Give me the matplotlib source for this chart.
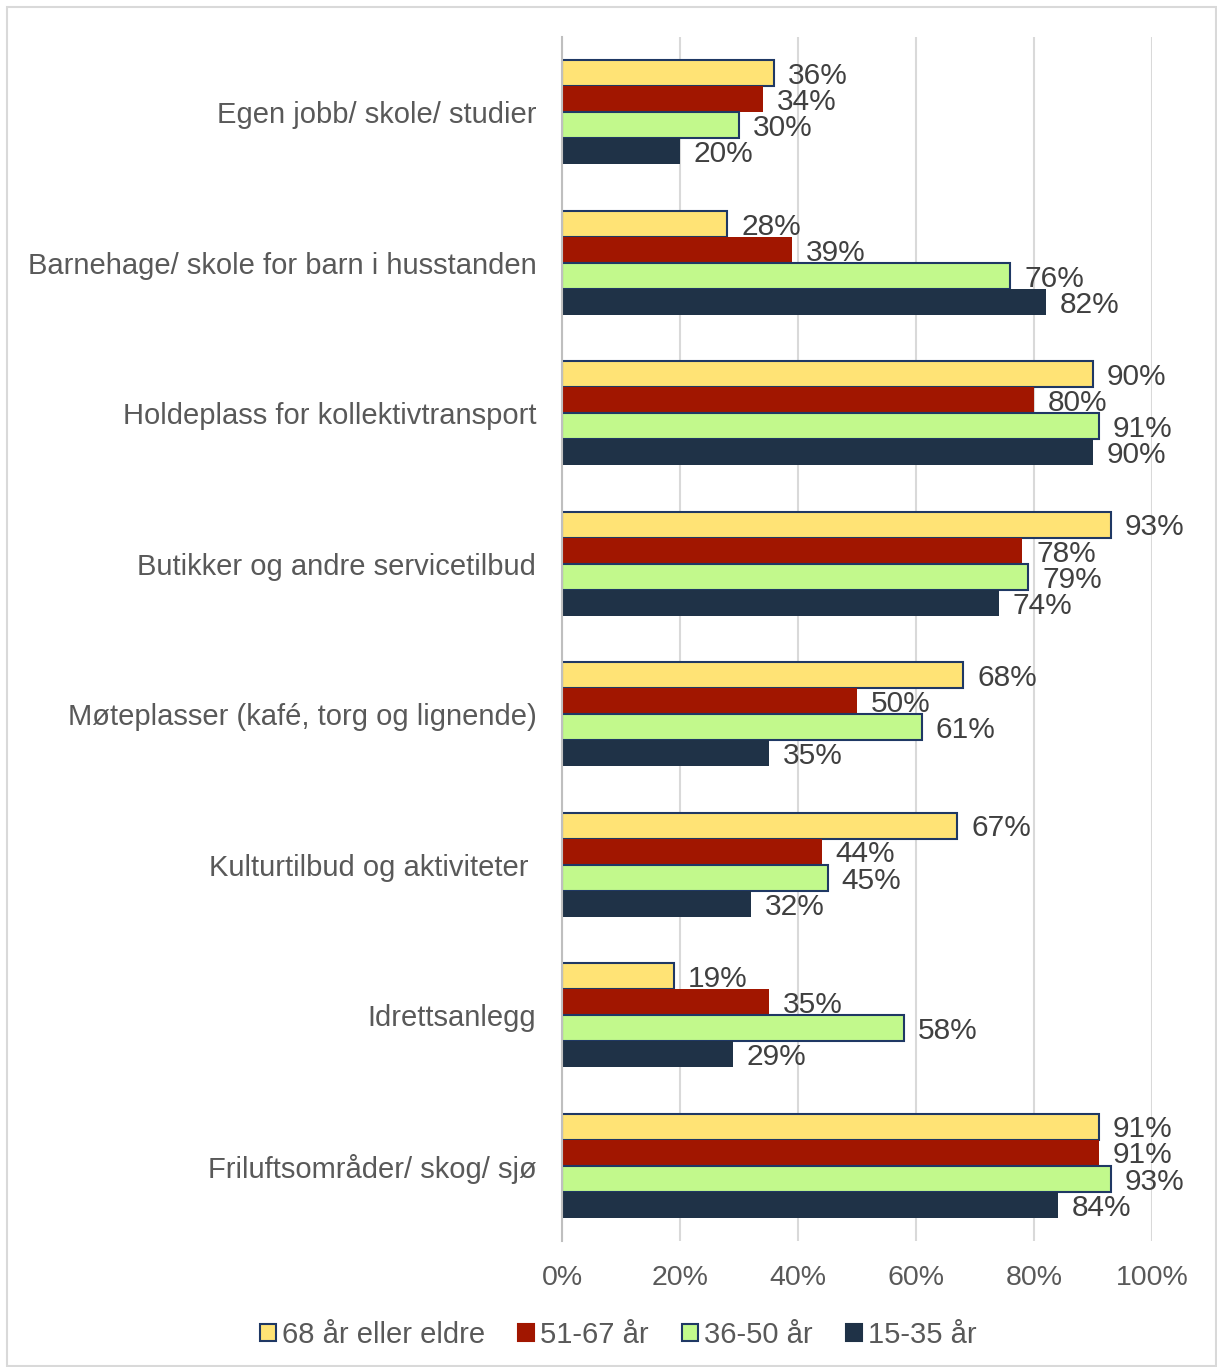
import numpy as np
import matplotlib
matplotlib.use("Agg")
from matplotlib import pyplot as plt
from matplotlib.patches import Rectangle, Patch

plt.rcParams["font.family"] = ["Liberation Sans", "DejaVu Sans"]

categories = [
    "Egen jobb/ skole/ studier",
    "Barnehage/ skole for barn i husstanden",
    "Holdeplass for kollektivtransport",
    "Butikker og andre servicetilbud",
    "Møteplasser (kafé, torg og lignende)",
    "Kulturtilbud og aktiviteter ",
    "Idrettsanlegg",
    "Friluftsområder/ skog/ sjø",
]
series = ["68 år eller eldre", "51-67 år", "36-50 år", "15-35 år"]
age_68 = [36, 28, 90, 93, 68, 67, 19, 91]
age_51 = [34, 39, 80, 78, 50, 44, 35, 91]
age_36 = [30, 76, 91, 79, 61, 45, 58, 93]
age_15 = [20, 82, 90, 74, 35, 32, 29, 84]
values = [age_68, age_51, age_36, age_15]

colors = ["#FFE375", "#A11600", "#C2F98C", "#1F3247"]
edges = ["#1F3864", "none", "#1F3864", "none"]

fig = plt.figure(figsize=(12.17, 13.67), dpi=100)
ax = fig.add_axes([0.4618, 0.0922, 0.4848, 0.8807])

y = np.arange(len(categories))
h = 0.173
offsets = [-1.5, -0.5, 0.5, 1.5]

for vals, col, ec, off in zip(values, colors, edges, offsets):
    ax.barh(y + off * h, vals, height=h, color=col,
            edgecolor=ec, linewidth=1.5 if ec != "none" else 0, zorder=3)
    for yi, v in zip(y, vals):
        ax.annotate("%d%%" % v, (v, yi + off * h), xytext=(10, -2),
                    textcoords="offset points", ha="left", va="center",
                    fontsize=21.5, color="#404040", zorder=4)

ax.set_xlim(0, 100)
ax.set_ylim(len(categories) - 0.5, -0.5)
ax.set_xticks([0, 20, 40, 60, 80, 100])
ax.set_xticklabels(["0%", "20%", "40%", "60%", "80%", "100%"])
ax.set_yticks(y)
ax.set_yticklabels(categories)
ax.tick_params(axis="both", length=0, labelcolor="#595959")
ax.tick_params(axis="y", pad=18.5, labelsize=21)
ax.tick_params(axis="x", pad=17.5, labelsize=20.5)
ax.grid(axis="x", color="#D9D9D9", linewidth=1.5, zorder=0)
for s in ["top", "right", "bottom"]:
    ax.spines[s].set_visible(False)
ax.spines["left"].set_color("#BFBFBF")
ax.spines["left"].set_linewidth(1.5)
ax.spines["left"].set_zorder(5)

handles = [Patch(facecolor=c, edgecolor=(e if e != "none" else c), linewidth=1.5)
           for c, e in zip(colors, edges)]
fig.legend(handles, series, loc="center", bbox_to_anchor=(0.508, 0.0235), ncol=4,
           frameon=False, fontsize=21, labelcolor="#595959",
           handlelength=0.55, handleheight=0.55, handletextpad=0.2, columnspacing=1.15)

fig.add_artist(Rectangle((7 / 1217, 1 / 1367), 1 - 8 / 1217, 1 - 8 / 1367,
                         transform=fig.transFigure, fill=False,
                         edgecolor="#D9D9D9", linewidth=1.5))

fig.savefig("out.png", dpi=100)
